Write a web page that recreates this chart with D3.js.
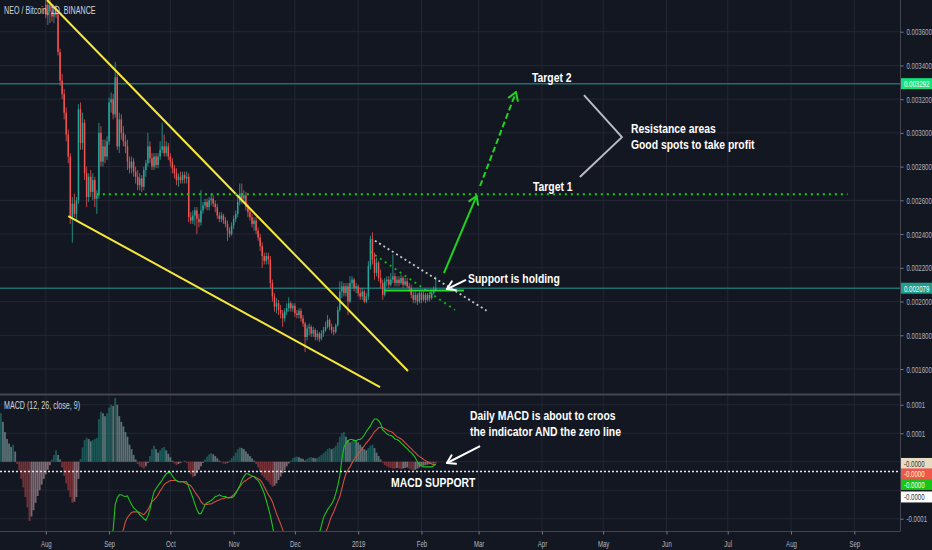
<!DOCTYPE html>
<html><head><meta charset="utf-8">
<script src="https://cdn.jsdelivr.net/npm/d3@7/dist/d3.min.js"></script>
<style>html,body{margin:0;padding:0;background:#131722;}svg{display:block;}</style>
</head><body><svg id="c" width="932" height="550"></svg>
<script>
// ---------------- DATA (prices in millionths of BTC: 2079 = 0.002079) ----------------
const title = "NEO / Bitcoin, 1D, BINANCE";
const macdTitle = "MACD (12, 26, close, 9)";
const candleStart = "2018-08-01";   // first daily candle
// [open, high, low, close]
const candles = [
[3760,3820,3680,3700],[3700,3800,3640,3760],[3760,3800,3650,3720],[3720,3760,3660,3690],[3690,3740,3650,3710],
[3710,3760,3680,3700],[3700,3720,3460,3480],[3480,3500,3280,3310],[3310,3350,3200,3230],[3230,3260,3080,3120],
[3120,3150,2950,2990],[2990,3020,2820,2860],[2860,2880,2460,2500],[2500,2620,2350,2580],[2580,2640,2500,2520],
[2520,2620,2480,2600],[2600,3170,2580,3140],[3140,3180,2900,2940],[2940,3120,2900,3060],[3060,3080,2720,2760],
[2760,2800,2560,2620],[2620,2760,2590,2740],[2740,2780,2620,2650],[2650,2760,2600,2720],[2720,2740,2560,2610],
[2610,2660,2520,2630],[2630,3060,2610,3000],[3000,3040,2800,2830],[2830,2960,2800,2920],[2920,2960,2820,2860],
[2860,2980,2840,2950],[2950,3210,2930,3180],[3180,3240,3120,3200],[3200,3230,3080,3110],[3110,3420,3090,3330],
[3330,3360,2900,2920],[2920,3120,2880,3080],[3080,3110,2960,3000],[3000,3040,2920,2950],[2950,2990,2880,2920],
[2920,2960,2780,2830],[2830,2860,2760,2790],[2790,2860,2760,2830],[2830,2850,2740,2770],[2770,2800,2700,2740],
[2740,2780,2660,2690],[2690,2760,2660,2730],[2730,2750,2650,2680],[2680,2800,2660,2780],[2780,2840,2740,2820],
[2820,3000,2800,2920],[2920,2950,2820,2850],[2850,2880,2780,2800],[2800,2880,2780,2860],[2860,2880,2790,2810],
[2810,2880,2790,2860],[2860,2950,2840,2900],[2900,3060,2880,2920],[2920,2990,2860,2880],[2880,2950,2860,2920],
[2920,2940,2840,2860],[2860,2880,2800,2830],[2830,2850,2760,2790],[2790,2810,2730,2760],[2760,2790,2690,2720],
[2720,2760,2680,2740],[2740,2770,2700,2720],[2720,2770,2700,2750],[2750,2770,2700,2730],[2730,2770,2700,2740],
[2740,2760,2470,2500],[2500,2530,2460,2480],[2480,2540,2460,2510],[2510,2560,2450,2540],[2540,2560,2400,2490],
[2490,2520,2440,2470],[2470,2660,2450,2540],[2540,2590,2520,2570],[2570,2610,2550,2590],[2590,2610,2540,2560],
[2560,2620,2540,2600],[2600,2640,2570,2610],[2610,2630,2560,2580],[2580,2600,2530,2560],[2560,2580,2490,2510],
[2510,2530,2470,2490],[2490,2530,2470,2510],[2510,2520,2460,2480],[2480,2500,2440,2460],[2460,2480,2360,2420],
[2420,2440,2380,2400],[2400,2470,2390,2450],[2450,2510,2430,2490],[2490,2540,2470,2520],[2520,2620,2500,2590],
[2590,2700,2570,2640],[2640,2700,2580,2610],[2610,2660,2580,2630],[2630,2650,2540,2560],[2560,2580,2500,2530],
[2530,2550,2480,2500],[2500,2520,2440,2460],[2460,2500,2420,2480],[2480,2500,2400,2420],[2420,2440,2360,2380],
[2380,2400,2300,2330],[2330,2350,2200,2270],[2270,2290,2220,2240],[2240,2290,2220,2270],[2270,2290,2220,2250],
[2250,2270,2080,2110],[2110,2130,2000,2030],[2030,2050,1940,1970],[1970,2020,1930,1990],[1990,2010,1920,1950],
[1950,1980,1900,1930],[1930,1950,1850,1900],[1900,1960,1880,1940],[1940,1990,1920,1960],[1960,2025,1940,1990],
[1990,2000,1940,1960],[1960,1990,1940,1975],[1975,1990,1910,1930],[1930,1950,1900,1920],[1920,1960,1900,1945],
[1945,1960,1880,1900],[1900,1920,1850,1870],[1870,1880,1700,1790],[1790,1860,1770,1840],[1840,1870,1800,1850],
[1850,1860,1790,1810],[1810,1850,1790,1830],[1830,1840,1770,1790],[1790,1830,1770,1810],[1810,1820,1760,1780],
[1780,1830,1770,1810],[1810,1850,1790,1830],[1830,1880,1820,1850],[1850,1920,1840,1890],[1890,1900,1830,1850],
[1850,1870,1810,1830],[1830,1850,1800,1820],[1820,1870,1810,1860],[1860,1970,1850,1950],[1950,2120,1940,2060],
[2060,2120,2020,2090],[2090,2110,2030,2050],[2050,2110,2030,2090],[2090,2110,1920,2000],[2000,2150,1990,2110],
[2110,2150,2080,2130],[2130,2140,2060,2080],[2080,2110,2050,2090],[2090,2100,2030,2050],[2050,2080,2010,2030],
[2030,2080,2010,2060],[2060,2070,1990,2000],[2000,2050,1990,2030],[2030,2240,2010,2210],[2210,2390,2190,2370],
[2370,2410,2220,2250],[2250,2290,2130,2170],[2170,2260,2150,2230],[2230,2240,2120,2140],[2140,2190,2080,2110],
[2110,2130,2010,2040],[2040,2140,2030,2120],[2120,2150,2090,2130],[2130,2150,2080,2100],[2100,2170,2090,2130],
[2130,2280,2110,2150],[2150,2170,2090,2110],[2110,2150,2090,2130],[2130,2150,2090,2110],[2110,2160,2100,2140],
[2140,2150,2080,2100],[2100,2140,2090,2120],[2120,2140,2080,2090],[2090,2110,2060,2080],[2080,2100,2020,2040],
[2040,2060,1990,2010],[2010,2060,1990,2040],[2040,2050,1980,2000],[2000,2060,1990,2050],[2050,2060,1990,2010],
[2010,2060,2000,2040],[2040,2050,1990,2010],[2010,2050,2000,2040],[2040,2050,2000,2020],[2020,2070,2010,2050],
[2050,2090,2040,2070],[2070,2150,2060,2079]
];
// MACD values in millionths
const histStart = "2018-07-10";
const histogram = [
85,70,52,40,32,26,30,18,-4,-15,
-30,-45,-62,-80,-104,-96,-85,-72,-60,-50,
-40,-30,-22,-14,-6,4,12,20,12,4,
-10,-25,-38,-50,-62,-72,-70,-62,-30,5,
25,38,42,40,36,38,40,42,75,88,
85,80,85,95,100,98,112,100,80,70,
62,52,44,30,22,12,4,-4,-8,-10,
-12,-8,-2,10,22,28,22,16,20,24,
26,20,14,8,2,-3,-6,-4,-2,0,
2,-2,-14,-22,-27,-25,-20,-14,-8,-2,
4,9,13,15,13,10,6,2,-1,-3,
-4,-2,2,6,10,16,22,25,24,22,
18,14,10,6,2,-4,-10,-18,-24,-28,
-32,-35,-40,-44,-42,-38,-32,-26,-20,-14,
-8,-3,2,6,8,9,8,6,5,2,
5,7,8,7,6,7,9,12,15,18,
22,24,22,24,28,34,44,50,52,44,
38,34,36,40,38,34,30,26,22,20,
24,28,30,24,16,10,4,-2,-6,-8,
-10,-11,-12,-12,-11,-12,-13,-12,-11,-10,
-12,-14,-15,-14,-12,-10,-8,-7,-6,-5,
-4,-4,-3,-3
];
const linesStart = "2018-08-29";
const macdLine = [
-170,-160,-150,-140,-130,-119,-75,-63,-58,-58,
-60,-61,-60,-68,-75,-81,-84,-88,-93,-96,
-100,-103,-95,-84,-67,-53,-47,-42,-37,-32,
-26,-21,-19,-19,-25,-30,-33,-35,-35,-35,
-35,-35,-44,-53,-63,-74,-84,-91,-91,-84,
-75,-72,-70,-68,-65,-61,-60,-58,-60,-61,
-61,-63,-63,-63,-61,-56,-49,-42,-33,-26,
-21,-21,-23,-25,-26,-30,-33,-39,-47,-56,
-68,-81,-95,-112,-132,-150,-165,-175,-182,-188,
-190,-190,-188,-185,-180,-178,-175,-172,-170,-172,
-170,-165,-160,-152,-145,-135,-125,-112,-98,-91,
-84,-79,-74,-67,-56,-42,-25,4,25,32,
37,39,39,37,37,39,39,42,47,53,
58,63,70,75,75,72,67,56,53,49,
47,46,44,40,39,37,33,30,26,23,
19,16,12,7,0,-5,-7,-9,-9,-9,
-9,-9,-7,-4
];
const signalLine = [
-200,-195,-190,-185,-180,-175,-165,-155,-140,-128,
-119,-105,-98,-93,-89,-88,-88,-88,-89,-91,
-93,-89,-84,-77,-70,-67,-63,-58,-51,-46,
-40,-37,-35,-33,-33,-33,-33,-35,-35,-35,
-37,-39,-40,-42,-47,-53,-58,-63,-70,-74,
-75,-75,-74,-74,-72,-70,-68,-67,-65,-65,
-63,-63,-63,-61,-58,-54,-49,-44,-39,-35,
-33,-30,-28,-26,-26,-28,-30,-32,-37,-44,
-51,-58,-63,-70,-81,-91,-100,-109,-119,-128,
-136,-142,-148,-152,-156,-158,-160,-161,-162,-165,
-165,-164,-162,-160,-157,-153,-148,-142,-134,-124,
-116,-105,-95,-88,-79,-70,-61,-47,-33,-21,
-14,-9,-2,4,9,14,18,23,28,33,
37,42,47,53,56,60,60,60,58,56,
54,53,51,47,44,42,40,37,33,30,
26,23,19,16,12,9,7,4,2,0,
-2,-4,-5,-5
];
const priceTicks = [1600,1800,2000,2200,2400,2600,2800,3000,3200,3400,3600];
const macdGrid = [-100,-50,0,50,100];
const macdTickLabels = [-100,50,100];     // the others sit under the value tags
const monthTicks = ["2018-08-01","2018-09-01","2018-10-01","2018-11-01","2018-12-01","2019-01-01","2019-02-01","2019-03-01","2019-04-01","2019-05-01","2019-06-01","2019-07-01","2019-08-01","2019-09-01"];
const priceLines = [3292, 2079];          // horizontal rays
const target1Level = 2636;                // dotted target line
const macdSupportLevel = -17;             // dotted MACD support
// drawings: [dayOffsetFromCandleStart, price]
const wedgeUpper = [[0.6,3788],[177.4,1588]];
const wedgeLower = [[11.0,2507],[163.7,1493]];
const whiteDotted = [[161.2,2361],[215.9,1946]];
const greenDotted = [[158.8,2296],[200.4,1950]];
const supportSeg = [[165.8,2065],[204.8,2065]];
const target1Seg = [[25,target1Level],[392.7,target1Level]];
const arrowSolid = [[195.0,2169],[211.0,2626]];
const arrowDashed = [[212.7,2685],[230.3,3242]];
const bracket = [[263.6,3224],[282.2,2975],[261.6,2738]];
const supportArrow = [[205.8,2128],[196.5,2074]];
const macdArrow = [[212.7,27.6],[196.5,-2.2]];
const priceTexts = [
  {t:"Target 2", d:238.1, p:3301},
  {t:"Target 1", d:238.6, p:2655},
  {t:"Resistance areas", d:286.6, p:2998},
  {t:"Good spots to take profit", d:286.6, p:2904},
  {t:"Support is holding", d:206.8, p:2110}
];
const macdTexts = [
  {t:"Daily MACD is about to croos", d:207.8, v:72.5},
  {t:"the indicator AND the zero line", d:207.8, v:45.2},
  {t:"MACD SUPPORT", d:169.1, v:-44.3}
];

// ---------------- DRAW ----------------
const svg = d3.select("#c");
const BG = "#131722", GRID = "#232733", AXC = "#b2b5be", BORDER = "#434651";
const RX = 900, P1T = 0, P1B = 393.5, P2T = 395.5, P2B = 531;
const parse = d3.utcParse("%Y-%m-%d");
const DAY = 864e5;
const t0 = parse(candleStart), th = parse(histStart), tl = parse(linesStart);
const at = (base, d) => new Date(base.getTime() + d * DAY);

const x = d3.scaleUtc().domain([parse("2018-08-01"), parse("2019-09-01")]).range([45.8, 854.3]);
const y = d3.scaleLinear().domain([1600, 3600]).range([369, 31.7]);
const ym = d3.scaleLinear().domain([-100, 100]).range([518.75, 404.75]);
const px = p => [x(at(t0, p[0])), y(p[1])];
const pm = p => [x(at(t0, p[0])), ym(p[1])];

const FONT = '"Liberation Sans", Arial, sans-serif';
// horizontally condensed text (the reference typeface is a narrow one)
function condense(sel, sx) {
  sel.each(function () {
    const t = d3.select(this);
    const xx = +(t.attr("x") || 0);
    t.attr("x", xx / sx).attr("transform", `scale(${sx},1)`);
  });
  return sel;
}

svg.append("rect").attr("width", 932).attr("height", 550).attr("fill", BG);
const defs = svg.append("defs");
defs.append("clipPath").attr("id","c1").append("rect").attr("x",0).attr("y",P1T).attr("width",RX).attr("height",P1B-P1T);
defs.append("clipPath").attr("id","c2").append("rect").attr("x",0).attr("y",P2T).attr("width",RX).attr("height",P2B-P2T);

// grid
const grid = svg.append("g");
grid.selectAll(".vg").data(monthTicks).join("line")
  .attr("x1", d => x(parse(d))).attr("x2", d => x(parse(d)))
  .attr("y1", 0).attr("y2", P2B).attr("stroke", GRID).attr("stroke-width", 1);
grid.selectAll(".hg").data(priceTicks).join("line")
  .attr("x1", 0).attr("x2", RX).attr("y1", d => y(d)).attr("y2", d => y(d))
  .attr("stroke", GRID);
grid.selectAll(".hm").data(macdGrid).join("line")
  .attr("x1", 0).attr("x2", RX).attr("y1", d => ym(d)).attr("y2", d => ym(d))
  .attr("stroke", GRID);

// ---- price pane
const g1 = svg.append("g").attr("clip-path", "url(#c1)");
g1.selectAll(".pl").data(priceLines).join("line")
  .attr("x1", 0).attr("x2", RX).attr("y1", d => y(d)).attr("y2", d => y(d))
  .attr("stroke", "#1f6f70").attr("stroke-width", 1.5);

const UP = "#26a69a", DN = "#ef5350";
const cg = g1.append("g");
candles.forEach((c, i) => {
  const cx = x(at(t0, i));
  const col = c[3] >= c[0] ? UP : DN;
  cg.append("line").attr("x1", cx).attr("x2", cx).attr("y1", y(c[1])).attr("y2", y(c[2]))
    .attr("stroke", col).attr("stroke-width", 0.8);
  const top = y(Math.max(c[0], c[3])), bot = y(Math.min(c[0], c[3]));
  cg.append("rect").attr("x", cx - 0.75).attr("width", 1.5)
    .attr("y", top).attr("height", Math.max(1, bot - top)).attr("fill", col);
});

const line = d3.line();
const seg = (g, pts, f, color, w, dash) => g.append("path").attr("d", line(pts.map(f)))
  .attr("fill", "none").attr("stroke", color).attr("stroke-width", w)
  .attr("stroke-dasharray", dash || null).attr("stroke-linejoin", "round");
seg(g1, wedgeUpper, px, "#f7e93b", 2);
seg(g1, wedgeLower, px, "#f7e93b", 2);
seg(g1, target1Seg, px, "#13d313", 2, "2,4");
seg(g1, whiteDotted, px, "#c8c8c8", 1.8, "2,3");
seg(g1, greenDotted, px, "#14b814", 1.8, "2,4");
seg(g1, supportSeg, px, "#2bd82b", 2);
seg(g1, bracket, px, "#b9bcc4", 2);

function arrow(g, pts, f, color, w, dash) {
  const [a, b] = pts.map(f);
  seg(g, pts, f, color, w, dash);
  const ang = Math.atan2(b[1] - a[1], b[0] - a[0]);
  const L = 9;
  [Math.PI * 0.82, -Math.PI * 0.82].forEach(o => {
    g.append("line").attr("x1", b[0]).attr("y1", b[1])
      .attr("x2", b[0] + L * Math.cos(ang + o)).attr("y2", b[1] + L * Math.sin(ang + o))
      .attr("stroke", color).attr("stroke-width", w).attr("stroke-linecap", "round");
  });
}
arrow(g1, arrowSolid, px, "#1ed41e", 2);
arrow(g1, arrowDashed, px, "#1ed41e", 2, "6,3");
arrow(g1, supportArrow, px, "#ffffff", 2);

const ANN_SIZE = 13, ANN_SX = 0.8;
condense(g1.selectAll(".at").data(priceTexts).join("text")
  .attr("x", d => x(at(t0, d.d))).attr("y", d => y(d.p)).text(d => d.t)
  .attr("fill", "#ffffff").attr("font-family", FONT).attr("font-weight", "bold").attr("font-size", ANN_SIZE), ANN_SX);

condense(svg.append("text").attr("x", 4).attr("y", 14).text(title)
  .attr("fill", "#d1d4dc").attr("font-family", FONT).attr("font-size", 10.5), 0.68);

// ---- MACD pane
const g2 = svg.append("g").attr("clip-path", "url(#c2)");
const hcol = (v, p) => v >= 0 ? (v >= p ? "#26a69a" : "#b2dfdb") : (v <= p ? "#ef5350" : "#ffcdd2");
g2.selectAll(".hb").data(histogram).join("rect")
  .attr("x", (d, i) => x(at(th, i)) - 0.9).attr("width", 1.8)
  .attr("y", d => Math.min(ym(0), ym(d))).attr("height", d => Math.abs(ym(d) - ym(0)))
  .attr("fill", (d, i) => hcol(d, i ? histogram[i - 1] : d)).attr("fill-opacity", 0.45);
const ml = d3.line().x((d, i) => x(at(tl, i))).y(d => ym(d));
g2.append("path").attr("d", ml(signalLine)).attr("fill", "none").attr("stroke", "#d4503e").attr("stroke-width", 1.1);
g2.append("path").attr("d", ml(macdLine)).attr("fill", "none").attr("stroke", "#1fc41f").attr("stroke-width", 1.1);
g2.append("line").attr("x1", 0).attr("x2", RX).attr("y1", ym(macdSupportLevel)).attr("y2", ym(macdSupportLevel))
  .attr("stroke", "#e8e8e8").attr("stroke-width", 1.6).attr("stroke-dasharray", "2,2");
arrow(g2, macdArrow, pm, "#ffffff", 2);
condense(g2.selectAll(".mt").data(macdTexts).join("text")
  .attr("x", d => x(at(t0, d.d))).attr("y", d => ym(d.v)).text(d => d.t)
  .attr("fill", "#ffffff").attr("font-family", FONT).attr("font-weight", "bold").attr("font-size", ANN_SIZE), ANN_SX);
condense(svg.append("text").attr("x", 4).attr("y", 409).text(macdTitle)
  .attr("fill", "#d1d4dc").attr("font-family", FONT).attr("font-size", 10.5), 0.68);

// borders
svg.append("line").attr("x1", 0).attr("x2", RX).attr("y1", 394.5).attr("y2", 394.5).attr("stroke", BORDER).attr("stroke-width", 2);
svg.append("line").attr("x1", RX + 0.5).attr("x2", RX + 0.5).attr("y1", 0).attr("y2", P2B).attr("stroke", BORDER);
svg.append("line").attr("x1", 0).attr("x2", RX + 0.5).attr("y1", P2B + 0.5).attr("y2", P2B + 0.5).attr("stroke", BORDER);

// axes
const styleAxis = g => { g.select(".domain").remove(); g.selectAll("line").attr("stroke", "#787b86");
  g.selectAll("text").attr("fill", AXC).attr("font-family", FONT).attr("font-size", 9.5);
  condense(g.selectAll("text"), 0.64); };
svg.append("g").attr("transform", `translate(${RX + 0.5},0)`)
  .call(d3.axisRight(y).tickValues(priceTicks).tickSize(3).tickPadding(3).tickFormat(v => (v / 1e6).toFixed(6)))
  .call(styleAxis);
svg.append("g").attr("transform", `translate(${RX + 0.5},0)`)
  .call(d3.axisRight(ym).tickValues(macdTickLabels).tickSize(3).tickPadding(3).tickFormat(v => (v / 1e6).toFixed(4)))
  .call(styleAxis);
svg.append("g").attr("transform", `translate(0,${P2B + 0.5})`)
  .call(d3.axisBottom(x).tickValues(monthTicks.map(parse)).tickSize(3).tickPadding(6)
    .tickFormat(d => d.getUTCMonth() === 0 ? d3.utcFormat("%Y")(d) : d3.utcFormat("%b")(d)))
  .call(styleAxis);

// axis value labels
function tag(yc, txt, bg, fg) {
  const g = svg.append("g");
  g.append("rect").attr("x", RX + 1).attr("y", yc - 5.5).attr("width", 31).attr("height", 11).attr("fill", bg);
  condense(g.append("text").attr("x", RX + 4).attr("y", yc + 3.3).text(txt).attr("fill", fg)
    .attr("font-family", FONT).attr("font-size", 9.5), 0.64);
}
tag(y(priceLines[0]), (priceLines[0] / 1e6).toFixed(6), "#14e27a", "#ffffff");
tag(y(candles[candles.length - 1][3]), (candles[candles.length - 1][3] / 1e6).toFixed(6), "#1f9e8c", "#ffffff");
const lastH = histogram[histogram.length - 1];
const mTags = [
  ["#e7dcc2", "#333333"], ["#f0564c", "#fff6c8"], ["#18c418", "#ffffff"], ["#ffffff", "#333333"]
];
const mVals = [lastH, signalLine[signalLine.length - 1], macdLine[macdLine.length - 1], macdSupportLevel];
let yy = ym(lastH);
mVals.forEach((v, i) => {
  tag(yy, (v / 1e6 <= 0 ? "-" : "") + Math.abs(v / 1e6).toFixed(4), mTags[i][0], mTags[i][1]);
  yy += i === 2 ? 12.5 : 10.5;
});
</script></body></html>
